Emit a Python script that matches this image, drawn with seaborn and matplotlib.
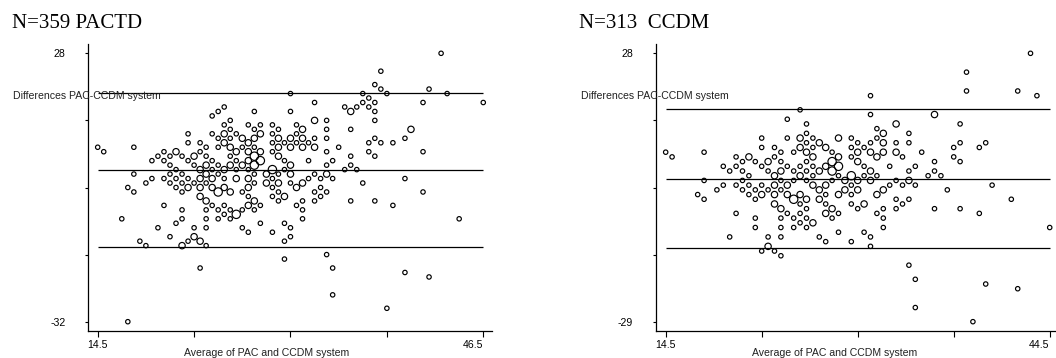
import matplotlib
matplotlib.use("Agg")
import matplotlib.pyplot as plt
import pandas as pd
import seaborn as sns

plt.rcParams['font.family'] = ['Liberation Sans', 'DejaVu Sans']

# ---------------- data: left panel (N=359 PACTD) ----------------
left_title = "N=359 PACTD"
left_diff_rows = [28, 24, 21, 20, 19, 18, 17, 16, 15, 14, 13, 12, 11, 10, 9, 8, 7, 6, 5, 4, 3, 2, 1, 0,
                  -1, -2, -3, -4, -5, -6, -7, -8, -9, -10, -11, -12, -13, -14, -15, -17, -18, -20,
                  -21, -22, -26, -29, -32]
left_avg_rows = [
    [43], [38], [37.5], [38, 42], [30.5, 36.5, 38.5, 43.5], [37],
    [32.5, 36.5, 37.5, 41.5, 46.5], [25, 35, 36, 37], [24.5, 27.5, 30.5, 35.5, 37.5], [24],
    [25.5, 32.5, 33.5, 37.5], [25, 27, 28, 29, 31], [25.5, 27.5, 29.5, 31.5, 33.5, 35.5, 40.5],
    [22, 24, 25, 26, 28, 29, 31],
    [24.5, 25.5, 26.5, 27.5, 29.5, 30.5, 31.5, 32.5, 33.5, 37.5, 40],
    [22, 23, 25, 27, 29, 30, 31, 32, 37, 38, 39],
    [14.5, 17.5, 23.5, 24.5, 25.5, 26.5, 27.5, 29.5, 30.5, 31.5, 32.5, 34.5],
    [15, 20, 21, 23, 26, 27, 28, 29, 33.5, 37, 41.5],
    [19.5, 20.5, 21.5, 22.5, 23.5, 25.5, 27.5, 29.5, 35.5, 37.5],
    [19, 20, 22, 24, 26, 27, 28, 30, 32, 34],
    [20.5, 22.5, 23.5, 24.5, 25.5, 26.5, 27.5, 30.5, 33.5, 35.5],
    [21, 23, 24, 25, 26, 27, 29, 30, 35, 36],
    [17.5, 20.5, 21.5, 23.5, 24.5, 27.5, 28.5, 29.5, 30.5, 32.5, 33.5],
    [19, 20, 21, 22, 23, 24, 25, 26, 27, 29, 32, 33, 34, 40],
    [18.5, 20.5, 21.5, 22.5, 23.5, 27.5, 28.5, 29.5, 30.5, 31.5, 36.5],
    [17, 21, 22, 23, 24, 25, 27, 29, 31, 33],
    [17.5, 21.5, 24.5, 25.5, 26.5, 29.5, 32.5, 33.5, 41.5],
    [23, 27, 29, 30, 33],
    [23.5, 27.5, 29.5, 31.5, 32.5, 35.5, 37.5],
    [20, 24, 25, 27, 28, 31, 39],
    [21.5, 23.5, 24.5, 25.5, 26.5, 27.5, 31.5],
    [25, 26],
    [16.5, 21.5, 23.5, 24.5, 25.5, 31.5, 44.5],
    [21, 28, 30], [19.5, 22.5, 23.5, 26.5, 30.5], [27, 29], [20.5, 22.5, 30.5],
    [18, 22, 23, 30], [18.5, 21.5, 23.5], [33.5], [30], [23, 34], [40], [42], [34], [38.5], [17],
]
left_n_rows = [
    [1], [1], [1], [1, 1], [1, 1, 1, 1], [1],
    [1, 1, 1, 1, 1], [1, 1, 1, 1], [1, 1, 1, 2, 1], [1],
    [1, 2, 1, 1], [1, 1, 1, 1, 1], [1, 1, 1, 2, 1, 1, 2],
    [1, 1, 2, 1, 2, 1, 1],
    [1, 1, 2, 2, 2, 2, 2, 1, 1, 1, 1],
    [1, 1, 2, 2, 1, 1, 1, 1, 1, 1, 1],
    [1, 1, 1, 1, 2, 1, 1, 2, 2, 2, 2, 1],
    [1, 1, 2, 1, 2, 2, 2, 1, 1, 1, 1],
    [1, 1, 1, 2, 1, 1, 3, 2, 1, 1],
    [1, 1, 1, 1, 1, 2, 3, 1, 1, 1],
    [1, 1, 2, 1, 2, 2, 3, 2, 1, 1],
    [1, 2, 1, 2, 1, 1, 3, 1, 1, 1],
    [1, 1, 1, 2, 1, 1, 2, 1, 2, 1, 2],
    [1, 1, 1, 1, 2, 2, 1, 2, 2, 1, 1, 1, 1, 1],
    [1, 1, 1, 1, 1, 1, 2, 2, 1, 2, 1],
    [1, 1, 2, 2, 2, 2, 2, 1, 2, 1],
    [1, 1, 3, 2, 1, 1, 1, 1, 1],
    [2, 1, 1, 2, 1],
    [2, 2, 1, 1, 1, 1, 1],
    [1, 1, 1, 2, 1, 1, 1],
    [1, 1, 1, 1, 1, 1, 1],
    [1, 3],
    [1, 1, 1, 1, 1, 1, 1],
    [1, 1, 1], [1, 1, 1, 1, 1], [1, 1], [1, 2, 1],
    [1, 1, 2, 1], [1, 2, 1], [1], [1], [1, 1], [1], [1], [1], [1], [1],
]
left_limits = [19.06, 1.84, -15.37]      # upper LoA, mean difference, lower LoA
left_xticks = [14.5, 22.5, 30.5, 38.5, 46.5]
left_yticks = [28, 13, -2, -17, -32]

# ---------------- data: right panel (N=313 CCDM) ----------------
right_title = "N=313  CCDM"
right_diff_rows = [28, 24, 20, 19, 16, 15, 14, 13, 12, 11, 10, 9, 8, 7, 6, 5, 4, 3, 2, 1, 0,
                   -1, -2, -3, -4, -5, -6, -7, -8, -9, -10, -11, -12, -13, -14, -15, -17, -20,
                   -21, -22, -26, -29]
right_avg_rows = [
    [43], [38], [38, 42], [30.5, 43.5], [25], [30.5, 35.5], [24], [25.5, 32.5, 37.5], [31],
    [25.5, 31.5, 33.5],
    [22, 24, 25, 26, 28, 29, 31],
    [25.5, 26.5, 29.5, 30.5, 31.5, 32.5, 33.5, 37.5, 39.5],
    [22, 23, 25, 26, 27, 29, 30, 37, 39],
    [14.5, 17.5, 23.5, 24.5, 25.5, 27.5, 29.5, 30.5, 31.5, 32.5, 34.5],
    [15, 20, 21, 23, 26, 28, 29, 31, 33, 37],
    [20.5, 21.5, 22.5, 23.5, 25.5, 27.5, 29.5, 35.5, 37.5],
    [19, 20, 22, 24, 25, 26, 27, 28, 30, 32, 34],
    [19.5, 20.5, 22.5, 23.5, 24.5, 25.5, 26.5, 27.5, 30.5, 33.5, 35.5],
    [21, 23, 25, 26, 28, 29, 30, 31, 35, 36],
    [17.5, 20.5, 23.5, 24.5, 25.5, 27.5, 28.5, 29.5, 30.5, 32.5, 33.5],
    [19, 20, 21, 22, 23, 24, 26, 27, 29, 32, 33, 34, 40],
    [18.5, 20.5, 21.5, 22.5, 23.5, 26.5, 28.5, 29.5, 31.5, 36.5],
    [17, 21, 22, 23, 24, 25, 27, 28, 29, 31],
    [17.5, 21.5, 24.5, 25.5, 26.5, 32.5, 33.5, 41.5],
    [23, 25, 27, 29, 30, 33],
    [23.5, 25.5, 27.5, 29.5, 31.5, 32.5, 35.5, 37.5],
    [20, 24, 25, 27, 28, 31, 39],
    [21.5, 23.5, 24.5, 25.5, 27.5, 31.5],
    [25, 26],
    [21.5, 23.5, 24.5, 25.5, 31.5, 44.5],
    [28, 30], [19.5, 22.5, 23.5, 26.5, 30.5], [27, 29], [22.5, 30.5], [22, 23], [23.5],
    [33.5], [34], [39.5], [42], [34], [38.5],
]
right_n_rows = [
    [1], [1], [1, 1], [1, 1], [1], [1, 2], [1], [1, 2, 1], [1],
    [1, 2, 1],
    [1, 1, 2, 1, 2, 1, 1],
    [1, 2, 1, 1, 2, 1, 1, 1, 1],
    [1, 1, 2, 1, 2, 1, 1, 1, 1],
    [1, 1, 1, 1, 2, 1, 2, 2, 2, 2, 1],
    [1, 1, 2, 1, 2, 2, 1, 2, 1, 1],
    [1, 1, 2, 1, 1, 3, 2, 1, 1],
    [1, 1, 1, 1, 1, 1, 2, 3, 1, 1, 1],
    [1, 1, 1, 2, 1, 1, 2, 3, 2, 1, 1],
    [1, 2, 2, 1, 1, 3, 1, 1, 1, 1],
    [1, 1, 1, 1, 1, 1, 2, 2, 2, 1, 2],
    [1, 1, 1, 1, 2, 2, 2, 2, 1, 1, 1, 1, 1],
    [1, 1, 1, 1, 1, 2, 2, 2, 2, 1],
    [1, 1, 2, 2, 2, 2, 1, 2, 1, 2],
    [1, 1, 3, 2, 2, 1, 1, 1],
    [2, 1, 1, 1, 2, 1],
    [2, 1, 2, 1, 1, 1, 1, 1],
    [1, 1, 1, 2, 1, 1, 1],
    [1, 1, 1, 1, 1, 1],
    [1, 2],
    [1, 1, 1, 1, 1, 1],
    [1, 1], [1, 1, 1, 1, 1], [1, 1], [2, 1], [1, 1], [1],
    [1], [1], [1], [1], [1], [1],
]
right_limits = [16.17, 1.37, -13.43]
right_xticks = [14.5, 22.0, 29.5, 37.0, 44.5]
right_yticks = [28, 13.75, -0.5, -14.75, -29]

x_label = "Average of PAC and CCDM system"
y_label = "Differences PAC-CCDM system"


def to_frame(diff_rows, avg_rows, n_rows):
    recs = []
    for d, avgs, ns in zip(diff_rows, avg_rows, n_rows):
        for a, n in zip(avgs, ns):
            recs.append({"avg": a, "diff": d, "n": n})
    return pd.DataFrame(recs)


W, H = 1056, 358
fig = plt.figure(figsize=(W / 100, H / 100), dpi=100)
fig.patch.set_facecolor("white")

panels = [
    dict(title=left_title, diffs=left_diff_rows, avgs=left_avg_rows, ns=left_n_rows,
         limits=left_limits, xticks=left_xticks, yticks=left_yticks,
         left_px=88.3, xlim=(13.72, 47.25), ylim=(-34.08, 30.08),
         title_px=12, ylab_px=13.3),
    dict(title=right_title, diffs=right_diff_rows, avgs=right_avg_rows, ns=right_n_rows,
         limits=right_limits, xticks=right_xticks, yticks=right_yticks,
         left_px=655.7, xlim=(13.72, 45.28), ylim=(-30.98, 29.98),
         title_px=578.7, ylab_px=581.3),
]

ax_w_px = 404
for p in panels:
    ax = fig.add_axes([p["left_px"] / W, 27 / H, ax_w_px / W, 287 / H])
    df = to_frame(p["diffs"], p["avgs"], p["ns"])
    sns.scatterplot(data=df, x="avg", y="diff", size="n",
                    sizes={1: 10, 2: 21, 3: 36}, legend=False, ax=ax,
                    marker="o", clip_on=False, zorder=3)
    coll = ax.collections[-1]
    coll.set_facecolor("none")
    coll.set_edgecolor("black")
    coll.set_linewidth(0.85)

    x0, x1 = p["xticks"][0], p["xticks"][-1]
    for yv in p["limits"]:
        ax.hlines(yv, x0, x1, color="black", linewidth=0.9, zorder=2)

    ax.set_xlim(*p["xlim"])
    ax.set_ylim(*p["ylim"])
    ax.set_xticks(p["xticks"])
    ax.set_xticklabels([f"{p['xticks'][0]:g}", "", "", "", f"{p['xticks'][-1]:g}"])
    ax.set_yticks(p["yticks"])
    ax.set_yticklabels([f"{p['yticks'][0]:g}", "", "", "", f"{p['yticks'][-1]:g}"])
    ax.get_xticklabels()[-1].set_horizontalalignment("right")
    ax.tick_params(axis="x", direction="out", length=4, width=0.8, pad=2.5,
                   labelsize=7.6, colors="black", bottom=True)
    ax.tick_params(axis="y", direction="out", length=2.5, width=0.8, pad=14,
                   labelsize=7.6, colors="black", left=True)
    ax.set_xlabel("")
    ax.set_ylabel("")
    ax.set_facecolor("white")
    sns.despine(ax=ax)
    for s in ("left", "bottom"):
        ax.spines[s].set_color("black")
        ax.spines[s].set_linewidth(0.9)
    ax.grid(False)

    fig.text(p["title_px"] / W, 1 - 23 / H, p["title"], family="Liberation Serif",
             fontsize=15, ha="left", va="center", color="black")
    fig.text(p["ylab_px"] / W, 1 - 95.7 / H, y_label, fontsize=7.6,
             ha="left", va="center", color="#222222")
    xl_center = p["left_px"] + 0.442 * ax_w_px
    fig.text(xl_center / W, 1 - 352.5 / H, x_label, fontsize=7.6,
             ha="center", va="center", color="#222222")

fig.savefig("out.png", dpi=100, facecolor="white")
